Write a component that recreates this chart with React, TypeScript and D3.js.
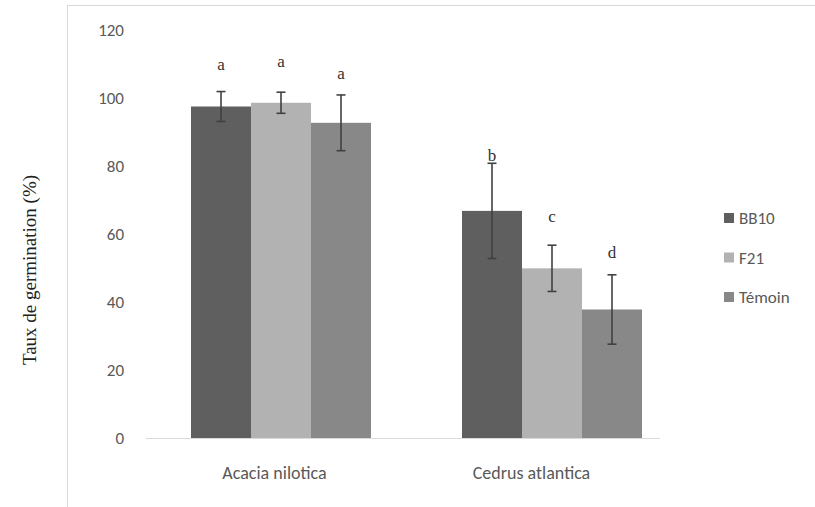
import React, { useRef, useEffect } from "react";
import * as d3 from "d3";

const categories = ["Acacia nilotica", "Cedrus atlantica"];
const seriesNames = ["BB10", "F21", "Témoin"];
const seriesColors = ["#5f5f5f", "#b2b2b2", "#888888"];

// means per category, one array per series
const bb10 = [97.5, 66.8];
const f21 = [98.6, 49.9];
const temoin = [92.7, 37.8];

const bb10Err = [4.4, 14];
const f21Err = [3.1, 6.8];
const temoinErr = [8.2, 10.2];

// significance letters and the height (in %) where they sit
const letters = [["a", "b"], ["a", "c"], ["a", "d"]];
const letterPos = [[108.2, 81.6], [109.0, 63.5], [105.5, 53.0]];

const yTicks = [0, 20, 40, 60, 80, 100, 120];

const App = () => {
  const svgRef = useRef(null);

  useEffect(() => {
    const svg = d3.select(svgRef.current);
    svg.selectAll("*").remove();

    const values = [bb10, f21, temoin];
    const errs = [bb10Err, f21Err, temoinErr];

    // outer frame
    svg.append("rect")
      .attr("x", 67.5).attr("y", 5.5)
      .attr("width", 800).attr("height", 600)
      .attr("fill", "white")
      .attr("stroke", "#d9d9d9");

    const y = d3.scaleLinear().domain([0, 120]).range([438, 30]);

    // category axis
    const x = d3.scaleBand().domain(categories).range([146, 660]);
    // bar groups
    const xGroup = d3.scaleBand().domain(categories).range([145.5, 687.5]).padding(0);
    const xSub = d3.scaleBand().domain(seriesNames).range([-90, 90]);

    const font = "Carlito, Calibri, Lato, 'Open Sans', sans-serif";

    // y tick labels
    svg.append("g")
      .selectAll("text")
      .data(yTicks)
      .enter()
      .append("text")
      .attr("x", 124)
      .attr("y", d => y(d) + 6)
      .attr("text-anchor", "end")
      .attr("font-family", font)
      .attr("font-size", "17px")
      .attr("fill", "#595959")
      .text(d => d);

    // bars
    seriesNames.forEach((s, si) => {
      const g = svg.append("g");
      g.selectAll("rect")
        .data(categories)
        .enter()
        .append("rect")
        .attr("x", (c) => xGroup(c) + xGroup.bandwidth() / 2 + xSub(s))
        .attr("y", (c, i) => y(values[si][i]))
        .attr("width", xSub.bandwidth())
        .attr("height", (c, i) => y(0) - y(values[si][i]))
        .attr("fill", seriesColors[si]);
    });

    // x axis line
    svg.append("line")
      .attr("x1", x.range()[0]).attr("x2", x.range()[1])
      .attr("y1", y(0) + 0.5).attr("y2", y(0) + 0.5)
      .attr("stroke", "#d9d9d9");

    // error bars
    seriesNames.forEach((s, si) => {
      categories.forEach((c, i) => {
        const cx = xGroup(c) + xGroup.bandwidth() / 2 + xSub(s) + xSub.bandwidth() / 2;
        const hi = y(values[si][i] + errs[si][i]);
        const lo = y(values[si][i] - errs[si][i]);
        const g = svg.append("g").attr("stroke", "#404040").attr("stroke-width", 1.6);
        g.append("line").attr("x1", cx).attr("x2", cx).attr("y1", hi).attr("y2", lo);
        g.append("line").attr("x1", cx - 4.5).attr("x2", cx + 4.5).attr("y1", hi).attr("y2", hi);
        g.append("line").attr("x1", cx - 4.5).attr("x2", cx + 4.5).attr("y1", lo).attr("y2", lo);
      });
    });

    // letters
    seriesNames.forEach((s, si) => {
      categories.forEach((c, i) => {
        const cx = xGroup(c) + xGroup.bandwidth() / 2 + xSub(s) + xSub.bandwidth() / 2;
        svg.append("text")
          .attr("x", cx)
          .attr("y", y(letterPos[si][i]))
          .attr("text-anchor", "middle")
          .attr("font-family", "'Liberation Serif', 'Times New Roman', serif")
          .attr("font-size", "17px")
          .attr("fill", "#333")
          .text(letters[si][i]);
      });
    });

    // category labels
    svg.append("g")
      .selectAll("text")
      .data(categories)
      .enter()
      .append("text")
      .attr("x", d => x(d) + x.bandwidth() / 2)
      .attr("y", 479)
      .attr("text-anchor", "middle")
      .attr("font-family", font)
      .attr("font-size", "18px")
      .attr("fill", "#595959")
      .text(d => d);

    // y axis title
    svg.append("text")
      .attr("transform", `translate(36, 270) rotate(-90)`)
      .attr("text-anchor", "middle")
      .attr("font-family", "'Liberation Serif', 'Times New Roman', serif")
      .attr("font-size", "19px")
      .attr("fill", "#222")
      .text("Taux de germination (%)");

    // legend
    const legend = svg.selectAll(".legend")
      .data(seriesNames)
      .enter()
      .append("g")
      .attr("class", "legend")
      .attr("transform", (d, i) => `translate(724, ${218 + i * 39.5})`);

    legend.append("rect")
      .attr("x", 0).attr("y", -5)
      .attr("width", 10).attr("height", 10)
      .attr("fill", (d, i) => seriesColors[i]);

    legend.append("text")
      .attr("x", 15)
      .attr("y", 6)
      .attr("font-family", font)
      .attr("font-size", "17px")
      .attr("fill", "#595959")
      .text(d => d);
  }, []);

  return (
    <svg
      ref={svgRef}
      width={815}
      height={507}
      style={{ position: "absolute", left: 0, top: 0, background: "white" }}
    ></svg>
  );
};

export default App;
